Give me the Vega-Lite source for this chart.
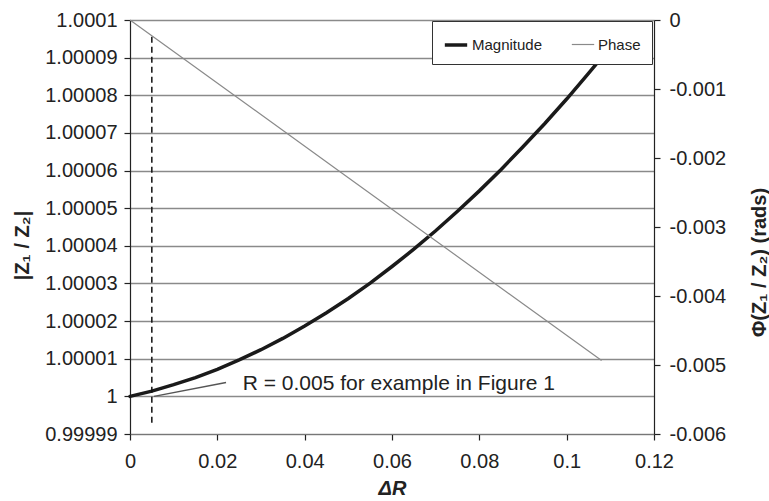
{
  "$schema": "https://vega.github.io/schema/vega-lite/v6.json",
  "autosize": "none",
  "width": 524,
  "height": 414,
  "padding": {"left": 130, "top": 20, "right": 115, "bottom": 67},
  "background": "white",
  "config": {
    "font": "Liberation Sans",
    "view": {"stroke": null},
    "axis": {"labelColor": "#222", "titleColor": "#222", "labelFontSize": 20, "titleFontSize": 20, "titleFontWeight": "bold", "domainColor": "#222", "tickColor": "#222", "tickSize": 6, "domainWidth": 1.2, "tickWidth": 1.2, "labelOverlap": false, "labelBound": false, "labelFlush": false, "tickCount": 30}
  },
  "datasets": {
    "mag": [
      {"x": 0, "v": 1.0, "series": "Magnitude"},
      {"x": 0.005, "v": 1.0000014, "series": "Magnitude"},
      {"x": 0.01, "v": 1.0000031, "series": "Magnitude"},
      {"x": 0.015, "v": 1.000005, "series": "Magnitude"},
      {"x": 0.02, "v": 1.0000072, "series": "Magnitude"},
      {"x": 0.025, "v": 1.0000097, "series": "Magnitude"},
      {"x": 0.03, "v": 1.0000124, "series": "Magnitude"},
      {"x": 0.035, "v": 1.0000154, "series": "Magnitude"},
      {"x": 0.04, "v": 1.0000187, "series": "Magnitude"},
      {"x": 0.045, "v": 1.0000222, "series": "Magnitude"},
      {"x": 0.05, "v": 1.000026, "series": "Magnitude"},
      {"x": 0.055, "v": 1.0000301, "series": "Magnitude"},
      {"x": 0.06, "v": 1.0000345, "series": "Magnitude"},
      {"x": 0.065, "v": 1.0000391, "series": "Magnitude"},
      {"x": 0.07, "v": 1.000044, "series": "Magnitude"},
      {"x": 0.075, "v": 1.0000492, "series": "Magnitude"},
      {"x": 0.08, "v": 1.0000546, "series": "Magnitude"},
      {"x": 0.085, "v": 1.0000603, "series": "Magnitude"},
      {"x": 0.09, "v": 1.0000663, "series": "Magnitude"},
      {"x": 0.095, "v": 1.0000725, "series": "Magnitude"},
      {"x": 0.1, "v": 1.000079, "series": "Magnitude"},
      {"x": 0.105, "v": 1.0000858, "series": "Magnitude"},
      {"x": 0.108, "v": 1.00009, "series": "Magnitude"}
    ],
    "phase": [
      {"x": 0, "v": 0, "series": "Phase"},
      {"x": 0.05, "v": -0.002285, "series": "Phase"},
      {"x": 0.108, "v": -0.004936, "series": "Phase"}
    ],
    "marker": [{"x": 0.005, "y1": 0.999993, "y2": 1.0000965}],
    "pointer": [{"x": 0.0055, "x2": 0.022, "y": 1.0, "y2": 1.0000037}],
    "note": [{"x": 0.0258, "y": 1.0000033, "label": "R = 0.005 for example in Figure 1"}]
  },
  "layer": [
    {
      "layer": [
        {
          "data": {"name": "mag"},
          "mark": {"type": "line", "strokeCap": "round"},
          "encoding": {
            "x": {"field": "x", "type": "quantitative", "scale": {"domain": [0, 0.12], "nice": false, "zero": false},
              "axis": {"title": "ΔR", "titleFontStyle": "italic", "values": [0, 0.02, 0.04, 0.06, 0.08, 0.1, 0.12], "format": "~g", "grid": false, "labelPadding": 11, "domainColor": "#777", "titleY": 54, "titleBaseline": "middle"}},
            "y": {"field": "v", "type": "quantitative", "scale": {"domain": [0.99999, 1.0001], "nice": false, "zero": false},
              "axis": {"title": "|Z₁ / Z₂|", "values": [0.99999, 1, 1.00001, 1.00002, 1.00003, 1.00004, 1.00005, 1.00006, 1.00007, 1.00008, 1.00009, 1.0001], "format": "~g", "grid": true, "gridColor": "#8a8a8a", "gridWidth": 1.5, "labelPadding": 7, "titleX": -108, "titleY": 225, "titleBaseline": "middle", "titleAngle": -90}},
            "color": {"field": "series", "type": "nominal", "scale": {"domain": ["Magnitude", "Phase"], "range": ["#1a1a1a", "#8a8a8a"]},
              "legend": {"title": null, "orient": "none", "legendX": 302, "legendY": 1, "direction": "horizontal", "symbolType": "stroke", "symbolSize": 500, "labelFontSize": 15, "labelColor": "#222", "labelOffset": 3, "columnPadding": 26, "padding": 11, "strokeColor": "#333", "fillColor": "white", "symbolStrokeColor": null}},
            "strokeWidth": {"field": "series", "type": "nominal", "scale": {"domain": ["Magnitude", "Phase"], "range": [3.5, 1.2]}, "legend": null}
          }
        },
        {
          "data": {"name": "marker"},
          "mark": {"type": "rule", "strokeDash": [6, 4], "color": "#111", "strokeWidth": 1.5},
          "encoding": {
            "x": {"field": "x", "type": "quantitative"},
            "y": {"field": "y1", "type": "quantitative"},
            "y2": {"field": "y2"}
          }
        },
        {
          "data": {"name": "pointer"},
          "mark": {"type": "rule", "color": "#555", "strokeWidth": 1.5},
          "encoding": {
            "x": {"field": "x", "type": "quantitative"},
            "x2": {"field": "x2"},
            "y": {"field": "y", "type": "quantitative"},
            "y2": {"field": "y2"}
          }
        },
        {
          "data": {"name": "note"},
          "mark": {"type": "text", "align": "left", "baseline": "middle", "fontSize": 21, "color": "#222"},
          "encoding": {
            "x": {"field": "x", "type": "quantitative"},
            "y": {"field": "y", "type": "quantitative"},
            "text": {"field": "label"}
          }
        }
      ]
    },
    {
      "data": {"name": "phase"},
      "mark": {"type": "line"},
      "encoding": {
        "x": {"field": "x", "type": "quantitative"},
        "y": {"field": "v", "type": "quantitative", "scale": {"domain": [-0.006, 0], "nice": false, "zero": false},
          "axis": {"orient": "right", "title": "Φ(Z₁ / Z₂) (rads)", "values": [-0.006, -0.005, -0.004, -0.003, -0.002, -0.001, 0], "format": "~g", "labelExpr": "replace(datum.label, '−', '-')", "grid": false, "labelPadding": 9, "titleX": 105, "titleY": 242, "titleBaseline": "middle", "titleAngle": -90}},
        "color": {"field": "series", "type": "nominal"},
        "strokeWidth": {"field": "series", "type": "nominal"}
      }
    }
  ],
  "resolve": {"scale": {"y": "independent"}}
}
